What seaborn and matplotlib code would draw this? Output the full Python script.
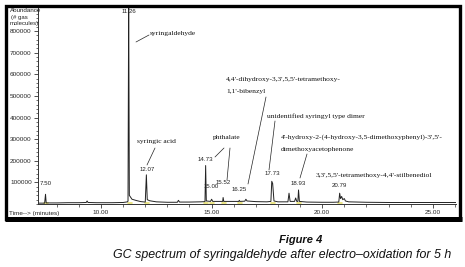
import matplotlib
matplotlib.use("Agg")
import matplotlib.pyplot as plt
from matplotlib.patches import Rectangle
from matplotlib.lines import Line2D
from matplotlib.ticker import MultipleLocator
import seaborn as sns
import pandas as pd

# ---- data ----
times = [7.15, 7.45, 7.49, 7.52, 8.0, 8.5, 9.0, 9.33, 9.37, 9.41, 9.8, 10.5, 11.0, 11.2,
         11.22, 11.25, 11.28, 11.4, 11.6, 11.8, 12.0, 12.05, 12.09, 12.2, 12.5, 13.0,
         13.45, 13.5, 13.55, 14.0, 14.5, 14.70, 14.73, 14.76, 14.95, 15.00, 15.05, 15.3,
         15.50, 15.52, 15.55, 16.0, 16.23, 16.25, 16.28, 16.5, 16.55, 16.6, 17.0, 17.5,
         17.68, 17.72, 17.76, 17.82, 18.0, 18.45, 18.5, 18.55, 18.75, 18.8, 18.85, 18.9,
         18.93, 18.97, 19.3, 20.0, 20.5, 20.75, 20.79, 20.83, 20.88, 20.93, 21.0, 21.05,
         21.2, 22.0, 23.0, 24.0, 25.0, 26.05]
abundance = [4000, 4000, 45000, 5000, 5000, 6000, 6000, 7000, 14000, 7000, 6000, 6000, 7000, 10000,
             14000, 960000, 40000, 22000, 16000, 11000, 9000, 135000, 20000, 15000, 10000, 8000,
             8000, 17000, 9000, 9000, 10000, 11000, 178000, 14000, 12000, 22000, 12000, 12000,
             12000, 30000, 12000, 12000, 12000, 17000, 12000, 13000, 22000, 14000, 11000, 10000,
             12000, 105000, 95000, 14000, 10000, 10000, 50000, 12000, 12000, 28000, 12000, 12000,
             65000, 12000, 9000, 8000, 8000, 9000, 50000, 25000, 35000, 20000, 25000, 14000,
             10000, 8000, 7000, 7000, 7000, 7000]

peak_times = [7.50, 11.26, 12.07, 14.73, 15.00, 15.52, 16.25, 17.73, 18.93, 20.79]
peak_labels = ["7.50", "11.26", "12.07", "14.73", "15.00", "15.52", "16.25", "17.73", "18.93", "20.79"]
peak_label_y = [95000, 890000, 160000, 205000, 80000, 100000, 65000, 140000, 95000, 85000]

yticks = [100000, 200000, 300000, 400000, 500000, 600000, 700000, 800000]
ytick_labels = ["100000", "200000", "300000", "400000", "500000", "600000", "700000", "800000"]
xticks = [10, 15, 20, 25]
xtick_labels = ["10.00", "15.00", "20.00", "25.00"]

df = pd.DataFrame({"time": times, "abundance": abundance})

W, H = 465, 267
fig = plt.figure(figsize=(W / 100, H / 100), dpi=100)
sns.set_style("white")
plt.rcParams["font.family"] = ["Liberation Sans", "DejaVu Sans"]


def px(x, y):
    return (x / W, 1 - y / H)


ax = fig.add_axes([38 / W, 1 - 204 / H, (456 - 38) / W, (204 - 8) / H])
sns.lineplot(data=df, x="time", y="abundance", ax=ax, color="#222222",
             linewidth=0.7, estimator=None, sort=False)

# yellow integration marks at peak bases
for t in peak_times:
    ax.plot([t - 0.06, t + 0.12], [6000, 6000], color="#e8e070", lw=1.2, zorder=1)

ax.set_xlim(7.15, 26.05)
ax.set_ylim(0, 907000)
ax.set_xlabel("")
ax.set_ylabel("")
ax.set_xticks(xticks)
ax.set_xticklabels(xtick_labels, fontsize=4.6)
ax.xaxis.set_minor_locator(MultipleLocator(1))
ax.set_yticks(yticks)
ax.set_yticklabels(ytick_labels, fontsize=4.6)
ax.yaxis.set_minor_locator(MultipleLocator(20000))
ax.tick_params(axis="both", which="major", direction="out", length=3, width=0.6,
               color="#333333", pad=1.5, left=True, bottom=True)
ax.tick_params(axis="both", which="minor", direction="out", length=1.8, width=0.5,
               color="#333333", left=True, bottom=True)
for s in ["top", "right"]:
    ax.spines[s].set_visible(False)
for s in ["left", "bottom"]:
    ax.spines[s].set_color("#333333")
    ax.spines[s].set_linewidth(0.7)
ax.patch.set_alpha(0)

# peak labels
for t, lab, yy in zip(peak_times, peak_labels, peak_label_y):
    ax.text(t, yy, lab, fontsize=4.4, ha="center", va="center", color="#222222")

# axis captions inside frame
fig.text(*px(9.5, 8.5), "Abundance", fontsize=4.5, ha="left", va="top", color="#222222")
fig.text(*px(11, 15), "(# gas", fontsize=4.3, ha="left", va="top", color="#222222")
fig.text(*px(10, 21.5), "molecules)", fontsize=4.3, ha="left", va="top", color="#222222")
fig.text(*px(9, 213), "Time--> (minutes)", fontsize=4.6, ha="left", va="center", color="#222222")

# compound annotations (serif)
serif = ["Liberation Serif", "DejaVu Serif"]
ann = [
    ((150, 34), "syringaldehyde"),
    ((137, 142), "syringic acid"),
    ((213, 137), "phthalate"),
    ((226, 79), "4,4'-dihydroxy-3,3',5,5'-tetramethoxy-"),
    ((226, 92), "1,1'-bibenzyl"),
    ((267, 116), "unidentified syringyl type dimer"),
    ((281, 137), "4'-hydroxy-2-(4-hydroxy-3,5-dimethoxyphenyl)-3',5'-"),
    ((281, 149), "dimethoxyacetophenone"),
    ((316, 175), "3,3',5,5'-tetramethoxy-4,4'-stilbenediol"),
]
for (x, y), s in ann:
    fig.text(*px(x, y), s, fontsize=5.4, family=serif, ha="left", va="center", color="#111111")

leaders = [
    ((136, 42), (149, 35)),
    ((147, 165), (155, 148)),
    ((224, 148), (215, 157)),
    ((230, 148), (227, 180)),
    ((266, 97), (248, 184)),
    ((275, 121), (269, 170)),
    ((307, 154), (300, 178)),
]
for (x0, y0), (x1, y1) in leaders:
    a, b = px(x0, y0), px(x1, y1)
    fig.add_artist(Line2D([a[0], b[0]], [a[1], b[1]], color="#222222", lw=0.5,
                          transform=fig.transFigure))

# thick black frame
fig.add_artist(Rectangle(px(6, 218.5), (460 - 6) / W, (218.5 - 6) / H,
                         transform=fig.transFigure, fill=False, edgecolor="black", lw=2.4,
                         joinstyle="miter"))
fig.add_artist(Line2D([px(5, 219)[0], px(461.5, 219)[0]], [px(5, 218.5)[1]] * 2,
                      color="black", lw=3.6, solid_capstyle="butt", transform=fig.transFigure))

# figure caption
fig.text(*px(301, 240), "Figure 4", fontsize=8, fontweight="bold", style="italic",
         ha="center", va="center", color="#111111")
fig.text(*px(282, 255), "GC spectrum of syringaldehyde after electro\u2013oxidation for 5 h",
         fontsize=8.9, style="italic", ha="center", va="center", color="#111111")

fig.savefig("out.png", dpi=100)
